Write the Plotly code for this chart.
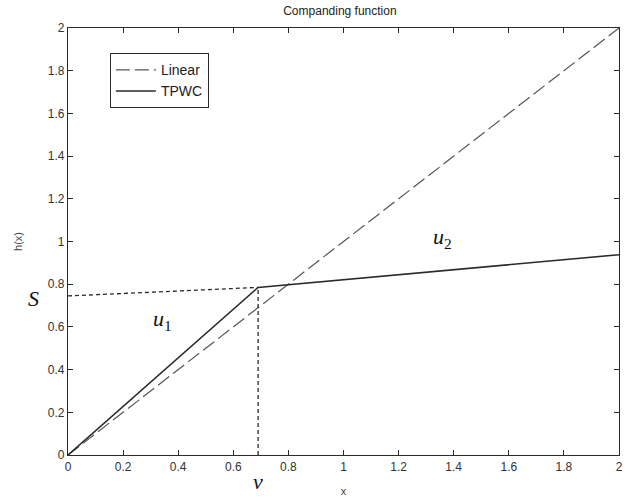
import plotly.graph_objects as go

# Companding curves
x_linear = [0.0, 2.0]
y_linear = [0.0, 2.0]

v_knee = 0.69
s_level = 0.745
x_tpwc = [0.0, v_knee, 2.0]
y_tpwc = [0.0, 0.785, 0.938]

# Guide lines: extension of the second segment and the knee drop
x_ext = [0.0, v_knee]
y_ext = [s_level, 0.785]
x_drop = [v_knee, v_knee]
y_drop = [0.0, 0.785]

tick_vals = [0, 0.2, 0.4, 0.6, 0.8, 1, 1.2, 1.4, 1.6, 1.8, 2]
tick_text = ["0", "0.2", "0.4", "0.6", "0.8", "1", "1.2", "1.4", "1.6", "1.8", "2"]

ink = "#2a2a2a"

fig = go.Figure()
fig.add_trace(go.Scatter(x=x_linear, y=y_linear, mode="lines", name="Linear",
                         line=dict(color="#555555", width=1.2, dash="14px,5px")))
fig.add_trace(go.Scatter(x=x_tpwc, y=y_tpwc, mode="lines", name="TPWC",
                         line=dict(color=ink, width=1.6)))
fig.add_trace(go.Scatter(x=x_ext, y=y_ext, mode="lines", showlegend=False,
                         line=dict(color=ink, width=1.3, dash="4px,3px")))
fig.add_trace(go.Scatter(x=x_drop, y=y_drop, mode="lines", showlegend=False,
                         line=dict(color=ink, width=1.3, dash="4px,3px")))

serif = dict(family="Liberation Serif", size=22, color="#111111")
# S and v sit outside the axes, so they are placed with paper-referenced x / y
fig.add_annotation(xref="paper", yref="y", x=-0.063, y=0.735, text="<i>S</i>",
                   xanchor="center", yanchor="middle", showarrow=False, font=serif)
fig.add_annotation(xref="x", yref="paper", x=v_knee, y=-0.063, text="<i>v</i>",
                   xanchor="center", yanchor="middle", showarrow=False, font=serif)
fig.add_annotation(x=0.343, y=0.632, text="<i>u</i><sub>1</sub>", showarrow=False, font=serif)
fig.add_annotation(x=1.36, y=1.016, text="<i>u</i><sub>2</sub>", showarrow=False, font=serif)

axis_common = dict(
    range=[0, 2], tickvals=tick_vals, ticktext=tick_text,
    showgrid=False, zeroline=False, showline=True, linecolor=ink, linewidth=1.2,
    mirror="allticks", ticks="inside", ticklen=5, tickcolor=ink,
    ticklabeloverflow="allow",
    tickfont=dict(family="Liberation Sans", size=12, color="#333333"),
)

fig.update_layout(
    width=626, height=501,
    margin=dict(l=68, r=3, t=28, b=46),
    paper_bgcolor="white", plot_bgcolor="white",
    title=dict(text="Companding function", x=0.543, xanchor="center", y=0.978, yanchor="middle",
               font=dict(family="Liberation Sans", size=12, color="#222222")),
    xaxis=dict(axis_common, title=dict(text="x", standoff=14,
               font=dict(family="Liberation Sans", size=11, color="#444444"))),
    yaxis=dict(axis_common, title=dict(text="h(x)", standoff=22,
               font=dict(family="Liberation Sans", size=11, color="#444444"))),
    legend=dict(x=0.076, y=0.941, xanchor="left", yanchor="top",
                bordercolor=ink, borderwidth=1, bgcolor="white",
                font=dict(family="Liberation Sans", size=14, color="#222222"),
                tracegroupgap=0, itemwidth=40),
    showlegend=True,
)

fig.write_html("out.html")
